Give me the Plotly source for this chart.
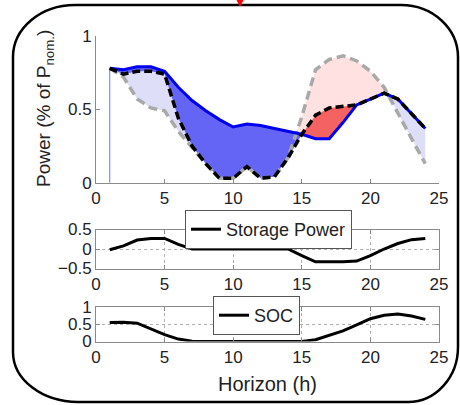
import plotly.graph_objects as go

# ---------------- data ----------------
hours = list(range(1, 25))
# blue solid: target power profile
p_target = [0.78, 0.77, 0.79, 0.79, 0.76, 0.65, 0.56, 0.49, 0.43, 0.38, 0.40, 0.39,
            0.37, 0.35, 0.33, 0.30, 0.30, 0.41, 0.53, 0.57, 0.61, 0.57, 0.47, 0.37]
# black dashed: power with storage
p_with_storage = [0.78, 0.74, 0.76, 0.76, 0.74, 0.44, 0.25, 0.13, 0.03, 0.03, 0.11, 0.03,
                  0.04, 0.17, 0.33, 0.46, 0.51, 0.52, 0.53, 0.57, 0.61, 0.57, 0.47, 0.37]
# grey dashed: power without storage
p_without_storage = [0.78, 0.72, 0.57, 0.51, 0.49, 0.35, 0.24, 0.13, 0.03, 0.03, 0.11, 0.03,
                     0.04, 0.17, 0.45, 0.77, 0.84, 0.865, 0.83, 0.76, 0.65, 0.47, 0.30, 0.13]
storage_power = [-0.02, 0.08, 0.23, 0.27, 0.27, 0.12, 0.0, 0.0, 0.0, 0.0, 0.0, 0.0,
                 0.0, 0.0, -0.17, -0.33, -0.33, -0.33, -0.31, -0.17, 0.0, 0.14, 0.24, 0.27]
soc = [0.55, 0.56, 0.53, 0.36, 0.20, 0.07, 0.01, 0.0, 0.0, 0.0, 0.0, 0.0,
       0.0, 0.0, 0.0, 0.05, 0.17, 0.31, 0.48, 0.66, 0.76, 0.80, 0.74, 0.64]

x_ticks = [0, 5, 10, 15, 20, 25]
top_y_ticks = [0, 0.5, 1]
top_y_text = ["0", "0.5", "1"]
mid_y_ticks = [-0.5, 0, 0.5]
mid_y_text = ["\u22120.5", "0", "0.5"]
bot_y_ticks = [0, 0.5, 1]
bot_y_text = ["0", "0.5", "1"]

# ---------------- styling ----------------
W, H = 460, 405
FONT = "Liberation Sans"
FS = 17
AX_GREY = "#8a8a8a"
TXT = "#222222"

C_LIGHT_BLUE = "#dedef9"
C_BLUE = "#6464f5"
C_PINK = "#ffe1e1"
C_RED = "#f46262"


def px(x):
    return x / W


def py(y):
    return 1 - y / H


def fill_between(x, top, bot):
    """split the area between two curves into polygons of constant sign"""
    eps = 1e-12
    d = [t - b for t, b in zip(top, bot)]
    runs = []
    run = [(x[0], top[0], bot[0])]
    for i in range(len(x) - 1):
        d0, d1 = d[i], d[i + 1]
        if d0 * d1 < 0:
            t = d0 / (d0 - d1)
            xc = x[i] + t * (x[i + 1] - x[i])
            yc = top[i] + t * (top[i + 1] - top[i])
            run.append((xc, yc, yc))
            runs.append(run)
            run = [(xc, yc, yc)]
        run.append((x[i + 1], top[i + 1], bot[i + 1]))
        if abs(d1) < eps:
            runs.append(run)
            run = [(x[i + 1], top[i + 1], bot[i + 1])]
    runs.append(run)
    out = []
    for r in runs:
        if len(r) < 2:
            continue
        s = sum(p[1] - p[2] for p in r)
        if abs(s) < 1e-9:
            continue
        xs = [p[0] for p in r] + [p[0] for p in reversed(r)]
        ys = [p[1] for p in r] + [p[2] for p in reversed(r)]
        out.append((xs, ys, s))
    return out


fig = go.Figure()

# fills between "with storage" and "without storage"
for xs, ys, s in fill_between(hours, p_with_storage, p_without_storage):
    fig.add_trace(go.Scatter(x=xs, y=ys, fill="toself", mode="lines",
                             line=dict(width=0), fillcolor=C_LIGHT_BLUE if s > 0 else C_PINK,
                             showlegend=False, hoverinfo="skip", xaxis="x", yaxis="y"))
# fills between target and "with storage"
for xs, ys, s in fill_between(hours, p_target, p_with_storage):
    fig.add_trace(go.Scatter(x=xs, y=ys, fill="toself", mode="lines",
                             line=dict(width=0), fillcolor=C_BLUE if s > 0 else C_RED,
                             showlegend=False, hoverinfo="skip", xaxis="x", yaxis="y"))

# thin vertical edge at the start
fig.add_trace(go.Scatter(x=[hours[0], hours[0]], y=[0, p_target[0]], mode="lines",
                         line=dict(color="#7070ff", width=1), showlegend=False,
                         hoverinfo="skip", xaxis="x", yaxis="y"))

fig.add_trace(go.Scatter(x=hours, y=p_without_storage, mode="lines",
                         line=dict(color="#a9a9a9", width=3.5, dash="9px,5px"),
                         showlegend=False, xaxis="x", yaxis="y"))
fig.add_trace(go.Scatter(x=hours, y=p_target, mode="lines",
                         line=dict(color="#0000f0", width=3),
                         showlegend=False, xaxis="x", yaxis="y"))
fig.add_trace(go.Scatter(x=hours, y=p_with_storage, mode="lines",
                         line=dict(color="#000000", width=3.5, dash="8px,4px"),
                         showlegend=False, xaxis="x", yaxis="y"))

fig.add_trace(go.Scatter(x=hours, y=storage_power, mode="lines", name="Storage Power",
                         line=dict(color="black", width=3), legend="legend",
                         xaxis="x2", yaxis="y2"))
fig.add_trace(go.Scatter(x=hours, y=soc, mode="lines", name="SOC",
                         line=dict(color="black", width=3), legend="legend2",
                         xaxis="x3", yaxis="y3"))

xdom = [px(96), px(439)]
tickfont = dict(family=FONT, size=FS, color=TXT)

common_x = dict(range=[0, 25], tickvals=x_ticks, ticks="inside", ticklen=4,
                tickcolor=AX_GREY, linecolor=AX_GREY, linewidth=1, showline=True,
                zeroline=False, tickfont=tickfont, fixedrange=True, automargin=False)
common_y = dict(ticks="inside", ticklen=4, tickcolor=AX_GREY, linecolor=AX_GREY,
                linewidth=1, showline=True, zeroline=False, tickfont=tickfont,
                fixedrange=True, automargin=False)

fig.update_layout(
    template="none",
    width=W, height=H,
    margin=dict(l=0, r=0, t=0, b=0, pad=0, autoexpand=False),
    paper_bgcolor="white", plot_bgcolor="white",
    font=dict(family=FONT, size=FS, color=TXT),
    xaxis=dict(domain=xdom, anchor="y", showgrid=False, mirror=False, **common_x),
    yaxis=dict(domain=[py(182.7), py(36)], anchor="x", range=[0, 1],
               tickvals=top_y_ticks, ticktext=top_y_text, showgrid=False,
               mirror=False, **common_y),
    xaxis2=dict(domain=xdom, anchor="y2", showgrid=True, griddash="dot",
                gridcolor="#b0b0b0", mirror="ticks", **common_x),
    yaxis2=dict(domain=[py(268.5), py(229.5)], anchor="x2", range=[-0.5, 0.5],
                tickvals=mid_y_ticks, ticktext=mid_y_text, showgrid=True,
                griddash="dot", gridcolor="#b0b0b0", mirror="ticks", **common_y),
    xaxis3=dict(domain=xdom, anchor="y3", showgrid=True, griddash="dot",
                gridcolor="#b0b0b0", mirror="ticks",
                title=dict(text="Horizon (h)", font=dict(family=FONT, size=20, color=TXT),
                           standoff=11),
                **common_x),
    yaxis3=dict(domain=[py(341.5), py(307)], anchor="x3", range=[0, 1],
                tickvals=bot_y_ticks, ticktext=bot_y_text, showgrid=True,
                griddash="dot", gridcolor="#b0b0b0", mirror="ticks", **common_y),
    legend=dict(x=px(185), y=py(210), xanchor="left", yanchor="top",
                bgcolor="white", bordercolor="#555555", borderwidth=1,
                font=dict(family=FONT, size=18, color=TXT), itemwidth=30),
    legend2=dict(x=px(213), y=py(296), xanchor="left", yanchor="top",
                 bgcolor="white", bordercolor="#555555", borderwidth=1,
                 font=dict(family=FONT, size=18, color=TXT), itemwidth=30),
    showlegend=True,
)

fig.add_annotation(xref="paper", yref="paper", x=px(45), y=py(109),
                   xanchor="center", yanchor="middle",
                   text="Power (% of P<sub>nom.</sub>)", textangle=-90, showarrow=False,
                   font=dict(family=FONT, size=19, color=TXT))

# rounded frame around the figure
L, T, R, B = 13, 5, 458, 402
k = 0.5523
corners = dict(tl=(62, 52), tr=(57, 52), br=(50, 55), bl=(65, 50))


def P(x, y):
    return f"{px(x):.5f},{py(y):.5f}"


rx, ry = corners["tl"]
path = f"M{P(L + rx, T)}"
rx, ry = corners["tr"]
path += f" L{P(R - rx, T)} C{P(R - rx + k * rx, T)} {P(R, T + ry - k * ry)} {P(R, T + ry)}"
rx, ry = corners["br"]
path += f" L{P(R, B - ry)} C{P(R, B - ry + k * ry)} {P(R - rx + k * rx, B)} {P(R - rx, B)}"
rx, ry = corners["bl"]
path += f" L{P(L + rx, B)} C{P(L + rx - k * rx, B)} {P(L, B - ry + k * ry)} {P(L, B - ry)}"
rx, ry = corners["tl"]
path += f" L{P(L, T + ry)} C{P(L, T + ry - k * ry)} {P(L + rx - k * rx, T)} {P(L + rx, T)} Z"
fig.add_shape(type="path", xref="paper", yref="paper", path=path,
              line=dict(color="black", width=2.5), layer="below")

# small red pointer at top edge
fig.add_shape(type="path", xref="paper", yref="paper",
              path=f"M{P(237, 0)} L{P(243, 0)} L{P(240, 6)} Z",
              fillcolor="red", line=dict(color="red", width=1))

fig.write_html("out.html",
               config={"displayModeBar": False},
               post_script="document.body.style.margin='0px';"
                           "document.body.style.padding='0px';"
                           "document.body.style.overflow='hidden';")
